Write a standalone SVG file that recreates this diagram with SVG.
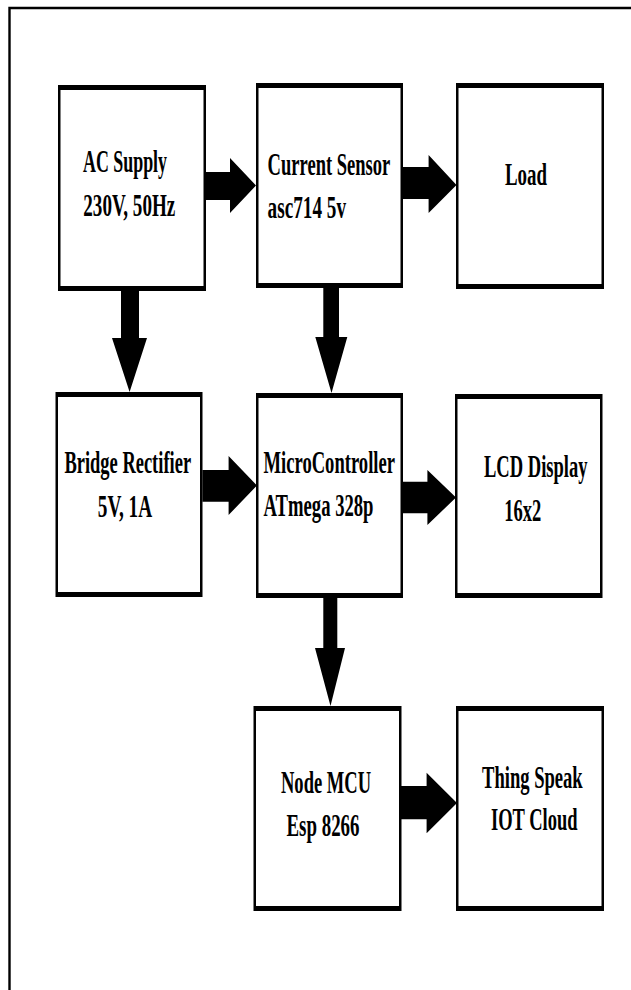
<svg xmlns="http://www.w3.org/2000/svg" width="631" height="990" viewBox="0 0 631 990">
<style>
.o{fill:#000}
.i{fill:#fff}
.t{font-family:"Liberation Serif","Times New Roman",serif;font-weight:bold;font-size:31px;fill:#000}
.a{fill:#000}
</style>
<rect width="631" height="990" fill="#fff"/>
<path d="M9.5,990 V8 H631" fill="none" stroke="#000" stroke-width="2.4"/>
<g id="ac-supply">
<rect class="o" x="58" y="85" width="148" height="206"/><rect class="i" x="60.5" y="90" width="143" height="196"/>
<text class="t" x="83" y="172" textLength="84" lengthAdjust="spacingAndGlyphs">AC Supply</text>
<text class="t" x="83.3" y="216" textLength="92" lengthAdjust="spacingAndGlyphs">230V, 50Hz</text>
</g>
<g id="current-sensor">
<rect class="o" x="256" y="83" width="147" height="205"/><rect class="i" x="258.5" y="88" width="142" height="195"/>
<text class="t" x="267.6" y="175" textLength="122.7" lengthAdjust="spacingAndGlyphs">Current Sensor</text>
<text class="t" x="267.6" y="218" textLength="78.4" lengthAdjust="spacingAndGlyphs">asc714 5v</text>
</g>
<g id="load">
<rect class="o" x="456" y="83" width="148" height="206"/><rect class="i" x="458.5" y="88" width="143" height="196"/>
<text class="t" x="505" y="185" textLength="42" lengthAdjust="spacingAndGlyphs">Load</text>
</g>
<g id="bridge-rectifier">
<rect class="o" x="55.5" y="392" width="147" height="205"/><rect class="i" x="58" y="397" width="142" height="195"/>
<text class="t" x="64.4" y="473" textLength="126.7" lengthAdjust="spacingAndGlyphs">Bridge Rectifier</text>
<text class="t" x="97.8" y="516.7" textLength="54.3" lengthAdjust="spacingAndGlyphs">5V, 1A</text>
</g>
<g id="microcontroller">
<rect class="o" x="256" y="393" width="147" height="205"/><rect class="i" x="258.5" y="398" width="142" height="195"/>
<text class="t" x="263.5" y="473" textLength="131.5" lengthAdjust="spacingAndGlyphs">MicroController</text>
<text class="t" x="263.5" y="515.5" textLength="110" lengthAdjust="spacingAndGlyphs">ATmega 328p</text>
</g>
<g id="lcd-display">
<rect class="o" x="455" y="394" width="147.5" height="204"/><rect class="i" x="457.5" y="399" width="142.5" height="194"/>
<text class="t" x="484" y="476.7" textLength="103.5" lengthAdjust="spacingAndGlyphs">LCD Display</text>
<text class="t" x="504.2" y="520.7" textLength="37" lengthAdjust="spacingAndGlyphs">16x2</text>
</g>
<g id="node-mcu">
<rect class="o" x="253.5" y="706" width="148" height="205"/><rect class="i" x="256" y="711" width="143" height="195"/>
<text class="t" x="281" y="793.3" textLength="90" lengthAdjust="spacingAndGlyphs">Node MCU</text>
<text class="t" x="286.5" y="836" textLength="73" lengthAdjust="spacingAndGlyphs">Esp 8266</text>
</g>
<g id="thing-speak">
<rect class="o" x="456" y="706" width="148" height="205"/><rect class="i" x="458.5" y="711" width="143" height="195"/>
<text class="t" x="482" y="787.7" textLength="100.7" lengthAdjust="spacingAndGlyphs">Thing Speak</text>
<text class="t" x="491" y="830" textLength="86.5" lengthAdjust="spacingAndGlyphs">IOT Cloud</text>
</g>
<g id="connectors">
<polygon class="a" points="206,172 230,172 230,158 256,185.5 230,213 230,200 206,200"/>
<polygon class="a" points="403,167 428.6,167 428.6,155 456.5,185 428.6,213 428.6,199 403,199"/>
<polygon class="a" points="121,291 139,291 139,338 147,338 129.6,392 112,338 121,338"/>
<polygon class="a" points="323.3,288 339,288 339,337 347.3,337 331.5,393 315.3,337 323.3,337"/>
<polygon class="a" points="202.4,470 228.6,470 228.6,456 257,485.5 228.6,515 228.6,501.7 202.4,501.7"/>
<polygon class="a" points="403,481.7 427.4,481.7 427.4,470 456,497.5 427.4,525 427.4,513.3 403,513.3"/>
<polygon class="a" points="323.3,598 337.3,598 337.3,648 345,648 330.5,706 315,648 323.3,648"/>
<polygon class="a" points="401,786 426.6,786 426.6,772.7 457,803 426.6,833.3 426.6,819.3 401,819.3"/>
</g>
</svg>
